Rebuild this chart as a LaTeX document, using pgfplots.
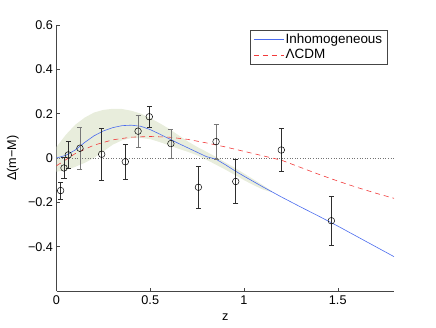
\documentclass[border=0pt]{standalone}
\usepackage{fontspec}
\setmainfont{Liberation Sans}
\usepackage{pgfplots}
\pgfplotsset{compat=1.18}
\usepgfplotslibrary{fillbetween}
\definecolor{bandc}{HTML}{E8EDDC}
\definecolor{bluec}{HTML}{4A6BEE}
\definecolor{redc}{HTML}{F23A3A}
\definecolor{axisc}{HTML}{454545}
\definecolor{bardark}{HTML}{2E2E2E}
\definecolor{barlight}{HTML}{777777}

\begin{document}
\begin{tikzpicture}
\begin{axis}[
  scale only axis, width=337.5bp, height=266bp,
  xmin=0, xmax=1.8, ymin=-0.6, ymax=0.6,
  xtick={0,0.5,1,1.5}, xticklabels={0,0.5,1,1.5},
  ytick={-0.4,-0.2,0,0.2,0.4,0.6}, yticklabels={−0.4,−0.2,0,0.2,0.4,0.6},
  axis x line*=bottom, axis y line*=left,
  axis line style={axisc, line width=0.6pt}, tick style={axisc, line width=0.5pt},
  tick align=inside, major tick length=3bp,
  every tick label/.append style={font=\fontsize{12.7}{14}\selectfont},
  xticklabel style={yshift=-1.5bp},
  xlabel={z}, ylabel={Δ(m−M)},
  label style={font=\fontsize{12.7}{14}\selectfont},
  xlabel style={at={(axis description cs:0.5,-0.097)}, anchor=center},
  ylabel style={at={(axis description cs:-0.129,0.5)}, anchor=center},
  legend style={at={(0.979,0.981)}, anchor=north east, draw=axisc, fill=white,
    font=\fontsize{13.5}{15}\selectfont, inner xsep=3bp, inner ysep=2bp,
    row sep=1.5bp, nodes={inner sep=1.5bp}},
  legend cell align=left,
  legend image code/.code={\draw[#1] (0bp,0bp) -- (30bp,0bp);},
  clip=false,
]
% shaded band
\addplot[name path=up, draw=none, forget plot] coordinates {
  (0,0.05) (0.05,0.105) (0.1,0.15) (0.15,0.182) (0.2,0.205) (0.25,0.217) (0.3,0.222)
  (0.35,0.221) (0.4,0.213) (0.45,0.2) (0.5,0.18) (0.55,0.157) (0.6,0.132)
  (0.65,0.103) (0.7,0.075) (0.75,0.05) (0.8,0.028) (0.85,0.005) (0.9,-0.02)
  (0.95,-0.044) (1.0,-0.07) (1.05,-0.096) (1.1,-0.122) (1.15,-0.15)};
\addplot[name path=lo, draw=none, forget plot] coordinates {
  (0,-0.062) (0.05,-0.055) (0.1,-0.04) (0.15,-0.022) (0.2,0.0) (0.25,0.03) (0.3,0.06)
  (0.35,0.08) (0.4,0.09) (0.45,0.09) (0.5,0.085) (0.55,0.072) (0.6,0.057)
  (0.65,0.042) (0.7,0.028) (0.75,0.012) (0.8,-0.008) (0.85,-0.03) (0.9,-0.052)
  (0.95,-0.076) (1.0,-0.1) (1.05,-0.122) (1.1,-0.142) (1.15,-0.155)};
\addplot[bandc, forget plot] fill between[of=up and lo];
% zero line
\addplot[black!55, dotted, line width=0.6pt, forget plot] coordinates {(0,0) (1.8,0)};
% models
\addplot[bluec, line width=0.6pt] coordinates {
  (0,0) (0.05,0.012) (0.1,0.036) (0.15,0.07) (0.2,0.1) (0.25,0.122) (0.3,0.137)
  (0.35,0.146) (0.4,0.148) (0.45,0.143) (0.5,0.128) (0.55,0.108) (0.6,0.087)
  (0.65,0.066) (0.7,0.046) (0.75,0.026) (0.8,0.006) (0.85,-0.005) (0.9,-0.03)
  (0.95,-0.057) (1.0,-0.082) (1.1,-0.13) (1.2,-0.176) (1.3,-0.22) (1.4,-0.263)
  (1.5,-0.307) (1.6,-0.353) (1.7,-0.399) (1.8,-0.445)};
\addlegendentry{Inhomogeneous}
\addplot[redc, line width=0.6pt, dash pattern=on 5bp off 4bp] coordinates {
  (0,-0.035) (0.1,0.02) (0.2,0.058) (0.3,0.082) (0.4,0.094) (0.5,0.097) (0.6,0.094)
  (0.7,0.084) (0.8,0.068) (0.9,0.05) (1.0,0.03) (1.1,0.01) (1.2,-0.01) (1.3,-0.042)
  (1.4,-0.074) (1.5,-0.104) (1.6,-0.132) (1.7,-0.158) (1.8,-0.182)};
\addlegendentry{ΛCDM}
% data, dark error bars
\addplot[only marks, mark=o, mark size=3.3bp, black, line width=0.5pt, forget plot,
  error bars/.cd, y dir=both, y explicit,
  error bar style={bardark, line width=0.6pt},
  error mark options={bardark, rotate=90, mark size=2.5bp, line width=0.6pt}]
  coordinates {
  (0.022,-0.147) +- (0,0.038)
  (0.040,-0.045) +- (0,0.048)
  (0.063,0.014) +- (0,0.062)
  (0.241,0.017) +- (0,0.118)
  (0.367,-0.017) +- (0,0.08)
  (0.495,0.186) +- (0,0.047)
  (0.757,-0.132) +- (0,0.094)
  (0.956,-0.106) +- (0,0.1)
  (1.199,0.036) +- (0,0.098)
  (1.466,-0.283) +- (0,0.11)};
% data, light error bars
\addplot[only marks, mark=o, mark size=3.3bp, black, line width=0.5pt, forget plot,
  error bars/.cd, y dir=both, y explicit,
  error bar style={barlight, line width=0.6pt},
  error mark options={barlight, rotate=90, mark size=2.5bp, line width=0.6pt}]
  coordinates {
  (0.125,0.044) +- (0,0.094)
  (0.435,0.121) +- (0,0.072)
  (0.61,0.065) +- (0,0.066)
  (0.851,0.074) +- (0,0.08)};
\end{axis}
\path (-56.5bp,-37bp) rectangle (379.5bp,291bp);
\end{tikzpicture}
\end{document}
